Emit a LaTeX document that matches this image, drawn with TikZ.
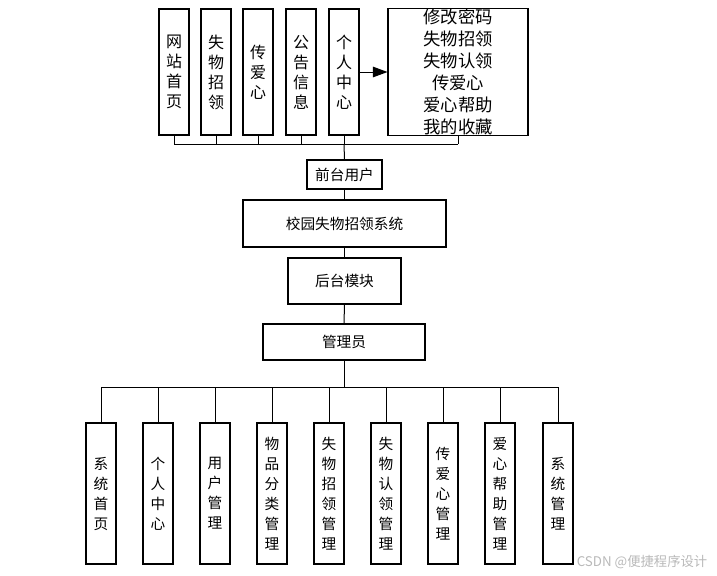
\documentclass[tikz,border=0pt]{standalone}
\usepackage{fontspec}
\setmainfont{Noto Sans CJK SC}
\usetikzlibrary{arrows.meta}

\begin{document}
\begin{tikzpicture}[x=0.75pt, y=-0.75pt,
    box/.style={draw, line width=0.8pt, inner sep=0pt, align=center},
    topbox/.style={box, minimum width=22.5pt, minimum height=94.5pt, font=\fontsize{12}{15}\selectfont},
    midbox/.style={box, font=\fontsize{11}{13}\selectfont},
    subbox/.style={box, minimum width=22.5pt, minimum height=105.75pt, font=\fontsize{11}{15}\selectfont},
    link/.style={draw, line width=0.75pt}]
    \useasboundingbox (0,0) rectangle (717,575);
    \node[topbox] (wzsy) at (174,72) {网\\站\\首\\页};
    \node[topbox] (swzl) at (216,72) {失\\物\\招\\领};
    \node[topbox] (cax) at (258,72) {传\\爱\\心};
    \node[topbox] (ggxx) at (301,72) {公\\告\\信\\息};
    \node[topbox] (grzx) at (344,72) {个\\人\\中\\心};
    \node[box, minimum width=105pt, minimum height=94.5pt, font=\fontsize{13}{16.5}\selectfont] (gnlb) at (458,72) {修改密码\\失物招领\\失物认领\\传爱心\\爱心帮助\\我的收藏};
    \coordinate (tbus) at (344,144);
    \node[midbox, minimum width=56.25pt, minimum height=21.75pt] (qtyh) at (344.5,174.5) {前台用户};
    \node[midbox, minimum width=152.25pt, minimum height=35.25pt] (xtmc) at (344.5,223.5) {校园失物招领系统};
    \node[midbox, minimum width=84.75pt, minimum height=34.5pt] (htmk) at (344.5,281) {后台模块};
    \node[midbox, minimum width=121.5pt, minimum height=27pt] (gly) at (344,342) {管理员};
    \coordinate (bbus) at (344,387);
    \node[subbox] (xtsy) at (101,493.5) {系\\统\\首\\页};
    \node[subbox] (grzxg) at (158,493.5) {个\\人\\中\\心};
    \node[subbox] (yhgl) at (215,493.5) {用\\户\\管\\理};
    \node[subbox] (wpfl) at (272,493.5) {物\\品\\分\\类\\管\\理};
    \node[subbox] (swzlg) at (329,493.5) {失\\物\\招\\领\\管\\理};
    \node[subbox] (swrl) at (386,493.5) {失\\物\\认\\领\\管\\理};
    \node[subbox] (caxg) at (443,493.5) {传\\爱\\心\\管\\理};
    \node[subbox] (axbz) at (500,493.5) {爱\\心\\帮\\助\\管\\理};
    \node[subbox] (xtgl) at (558,493.5) {系\\统\\管\\理};
    \node[text=gray!55, font=\fontsize{10}{12}\selectfont] (csdn) at (642,562) {CSDN @便捷程序设计};
    \foreach \n in {wzsy,swzl,cax,ggxx,grzx,gnlb}
        \draw[link] (\n.south) -- (\n.south |- tbus);
    \draw[link] (wzsy.south |- tbus) -- (gnlb.south |- tbus);
    \draw[link] (tbus) -- (qtyh.north);
    \draw[link, -{Triangle[length=11pt, width=8pt]}] (grzx.east) -- (gnlb.west);
    \draw[link] (qtyh.south) -- (xtmc.north);
    \draw[link] (xtmc.south) -- (htmk.north);
    \draw[link] (htmk.south) -- (gly.north);
    \draw[link] (gly.south) -- (bbus);
    \foreach \n in {xtsy,grzxg,yhgl,wpfl,swzlg,swrl,caxg,axbz,xtgl}
        \draw[link] (\n.north) -- (\n.north |- bbus);
    \draw[link] (xtsy.north |- bbus) -- (xtgl.north |- bbus);
\end{tikzpicture}
\end{document}
